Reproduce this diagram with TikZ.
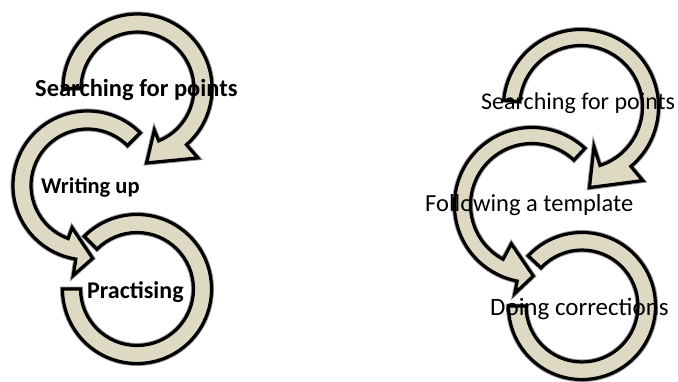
\documentclass[tikz,border=0pt]{standalone}
\usepackage{fontspec}
\setmainfont{Carlito}
\definecolor{arcfill}{RGB}{221,217,195}
\tikzset{
  band/.style={fill=arcfill, draw=black, line width=3.2pt, line join=miter,
    preaction={draw=black!40, line width=5pt}},
  lbl/.style={anchor=base west, inner sep=0pt, text=black},
  boldlbl/.style={lbl, font=\bfseries},
  plainlbl/.style={lbl},
}
% arrow: #1 start angle, #2 outer end angle, #3 inner end angle, #4 ro, #5 ri,
% #6 outer barb r, #7 inner barb r, #8 tip angle, #9 tip r
\newcommand{\circarrow}[9]{%
  \draw[band] (#1:#4pt) arc[start angle=#1, end angle=#2, radius=#4pt]
    -- (#2:#6pt) -- (#8:#9pt) -- (#3:#7pt) -- (#3:#5pt)
    arc[start angle=#3, end angle=#1, radius=#5pt] -- cycle;}
\newcommand{\blockarc}[4]{%
  \draw[band] (#1:#3pt) arc[start angle=#1, end angle=#2, radius=#3pt]
    -- (#2:#4pt) arc[start angle=#2, end angle=#1, radius=#4pt] -- cycle;}
\newcommand{\fs}[1]{\fontsize{#1}{#1}\selectfont}
\begin{document}
\begin{tikzpicture}[x=1pt, y=1pt]
\useasboundingbox[fill=white] (0,0) rectangle (678,381);
% ---------- left figure ----------
\begin{scope}[shift={(137,92)}]
  \blockarc{135}{-180}{74.5}{56.5}
\end{scope}
\begin{scope}[shift={(87.5,195.5)}]
  \circarrow{45}{261}{250}{74.5}{56.5}{91}{45}{274}{73}
\end{scope}
\begin{scope}[shift={(137.5,292.5)}]
  \circarrow{180}{-49}{-68}{74.5}{56.5}{92}{45}{-83}{75}
\end{scope}
\node[boldlbl] (l1) at (35,284) {\fs{24.5}Searching for points};
\node[boldlbl] (l2) at (41,187) {\fs{22.5}Writing up};
\node[boldlbl] (l3) at (87,83) {\fs{24}Practising};
% ---------- right figure ----------
\begin{scope}[shift={(582,75)}]
  \blockarc{137}{-180}{73.5}{56}
\end{scope}
\begin{scope}[shift={(532,176)}]
  \circarrow{47}{259}{242}{77.5}{61.5}{90}{44}{271}{71}
\end{scope}
\begin{scope}[shift={(581,274)}]
  \circarrow{175}{-50}{-72}{77.5}{61.5}{96}{42}{-84}{81}
\end{scope}
\node[plainlbl] (r1) at (481,271) {\fs{24}Searching for points};
\node[plainlbl] (r2) at (425,170) {\fs{24.5}Following a template};
\node[plainlbl] (r3) at (490,66) {\fs{25}Doing corrections};
\end{tikzpicture}
\end{document}
